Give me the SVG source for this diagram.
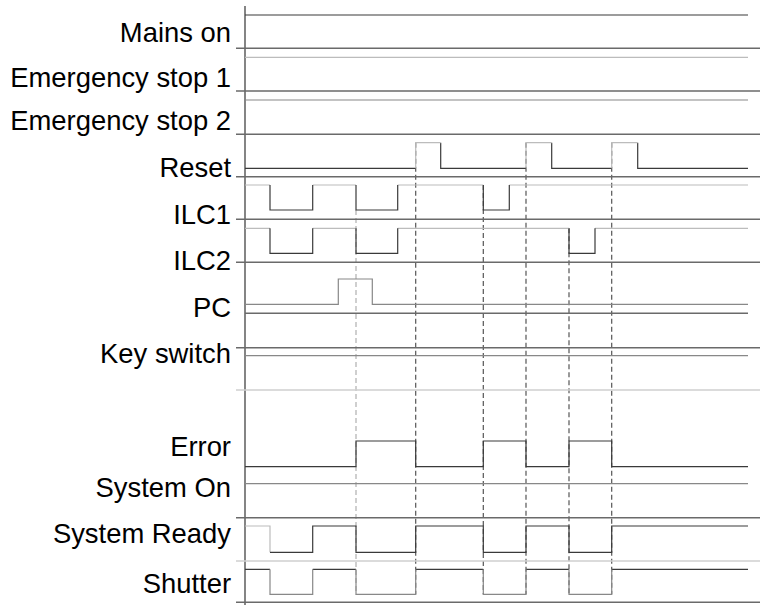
<svg xmlns="http://www.w3.org/2000/svg" width="760" height="606" viewBox="0 0 760 606">
<style>
text{font-family:"Liberation Sans",Arial,sans-serif;font-size:27.4px;fill:#000;text-anchor:end}
.sep{stroke:#6a6a6a;stroke-width:1.4;fill:none}
.sepl{stroke:#cfcfcf;stroke-width:1.4;fill:none}
.sig{stroke:#3a3a3a;stroke-width:1.2;fill:none}
.sigm{stroke:#888;stroke-width:1.2;fill:none}
.sigl{stroke:#bcbcbc;stroke-width:1.2;fill:none}
.dash{stroke:#555;stroke-width:1.2;stroke-dasharray:5 3;fill:none}
.dashl{stroke:#b0b0b0;stroke-width:1.2;stroke-dasharray:5 3;fill:none}
</style>
<rect width="760" height="606" fill="#fff"/>
<g id="connectors">
<path class="dashl" d="M356,210 V594.3"/>
<path class="dash" d="M415.7,142.7 V594.3"/>
<path class="dash" d="M483.3,185 V594.3"/>
<path class="dash" d="M526,142.7 V594.3"/>
<path class="dash" d="M569,228.3 V594.3"/>
<path class="dash" d="M611.7,142.7 V594.3"/>
</g>
<g id="axis">
<path d="M245,6 V605" stroke="#333" stroke-width="1.2" fill="none"/>
</g>
<g id="mains-on">
<text x="231" y="41.5">Mains on</text>
<path class="sig" d="M245,15 H748"/>
<path class="sep" d="M236,48.3 H760"/>
</g>
<g id="emergency-stop-1">
<text x="231" y="86.5">Emergency stop 1</text>
<path class="sigl" d="M245,57.3 H748"/>
<path class="sep" d="M236,91 H760"/>
</g>
<g id="emergency-stop-2">
<text x="231" y="129.5">Emergency stop 2</text>
<path class="sigm" d="M245,100 H748"/>
<path class="sep" d="M236,134.3 H760"/>
</g>
<g id="reset">
<text x="231" y="176.5">Reset</text>
<path class="sig" d="M245,168.3 H415.7 M440.7,142.7 V168.3 H526 M551.7,142.7 V168.3 H611.7 M637.7,142.7 V168.3 H748"/>
<path class="sigl" d="M415.7,168.3 V142.7 H440.7 M526,168.3 V142.7 H551.7 M611.7,168.3 V142.7 H637.7"/>
<path class="sep" d="M236,176.7 H760"/>
</g>
<g id="ilc1">
<text x="231" y="224">ILC1</text>
<path class="sigl" d="M245,185 H270 M312.7,185 H356 M397.7,185 H483.3 M509.3,185 H748"/>
<path class="sig" d="M270,185 V210 H312.7 V185 M356,185 V210 H397.7 V185 M483.3,185 V210 H509.3 V185"/>
<path class="sep" d="M236,219.3 H760"/>
</g>
<g id="ilc2">
<text x="231" y="270">ILC2</text>
<path class="sigl" d="M245,228.3 H270 M312.7,228.3 H356 M397.7,228.3 H569 M595,228.3 H748"/>
<path class="sig" d="M270,228.3 V253.3 H312.7 V228.3 M356,228.3 V253.3 H397.7 V228.3 M569,228.3 V253.3 H595 V228.3"/>
<path class="sep" d="M236,262.3 H760"/>
</g>
<g id="pc">
<text x="231" y="316.5">PC</text>
<path class="sigm" d="M245,304.3 H338.3 V279 H372.3 V304.3 H748"/>
<path class="sep" d="M245,313.3 H748"/>
</g>
<g id="key-switch">
<text x="231" y="362.5">Key switch</text>
<path class="sep" d="M236,347.7 H760"/>
<path class="sigm" d="M245,355.7 H748"/>
<path class="sepl" d="M236,390 H760"/>
</g>
<g id="error">
<text x="231" y="456">Error</text>
<path class="sig" d="M245,466.7 H356 V441 H415.7 V466.7 H483.3 V441 H526 V466.7 H569 V441 H611.7 V466.7 H748"/>
</g>
<g id="system-on">
<text x="231" y="496.5">System On</text>
<path class="sigm" d="M245,483.7 H748"/>
<path class="sep" d="M236,517.7 H760"/>
</g>
<g id="system-ready">
<text x="231" y="543">System Ready</text>
<path class="sigl" d="M245,526 H270 V552.3"/>
<path class="sig" d="M270,552.3 H312.7 V526 H356 V552.3 H415.7 V526 H483.3 V552.3 H526 V526 H569 V552.3 H611.7 V526 H748"/>
<path class="sepl" d="M236,561 H760"/>
</g>
<g id="shutter">
<text x="231" y="592.7">Shutter</text>
<path class="sig" d="M245,569.3 H270 M312.7,569.3 H356 M415.7,569.3 H483.3 M526,569.3 H569 M611.7,569.3 H748"/>
<path class="sigm" d="M270,569.3 V594.3 H312.7 V569.3 M356,569.3 V594.3 H415.7 V569.3 M483.3,569.3 V594.3 H526 V569.3 M569,569.3 V594.3 H611.7 V569.3"/>
<path class="sep" d="M236,602.3 H760"/>
</g>
</svg>
